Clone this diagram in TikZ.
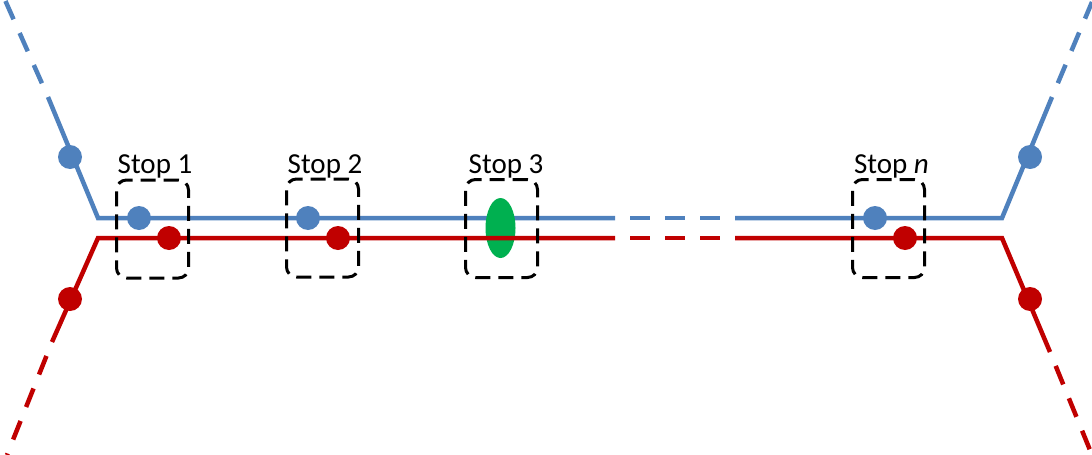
\documentclass[tikz,border=0pt]{standalone}
\usepackage{fontspec}
\setmainfont{Carlito}
\usetikzlibrary{shapes.geometric}
\definecolor{lineblue}{HTML}{4F81BD}
\definecolor{linered}{HTML}{C00000}
\definecolor{stopgreen}{HTML}{00B050}
\tikzset{
  route/.style={line width=4.5pt},
  routedash/.style={line width=4.5pt, dash pattern=on 20pt off 15pt, dash phase=20pt},
  bdot/.style={circle, fill=lineblue, inner sep=0pt, minimum size=24pt},
  rdot/.style={circle, fill=linered, inner sep=0pt, minimum size=24pt},
  stopbox/.style={draw=black, line width=3pt, dash pattern=on 15pt off 8pt, rounded corners=10pt, minimum width=72pt, minimum height=98pt, inner sep=0pt},
  stoplabel/.style={anchor=base, inner sep=0pt, font=\fontsize{29}{34}\selectfont},
}
\begin{document}
\begin{tikzpicture}[x=1pt,y=-1pt]
\useasboundingbox (0,0) rectangle (1092,455);
% blue route coordinates
\coordinate (bL0) at (5,0);
\coordinate (bL1) at (48,97);
\coordinate (bJL) at (98,218);
\coordinate (bM1) at (615,218);
\coordinate (bM2) at (735,218);
\coordinate (bJR) at (1002,218);
\coordinate (bR1) at (1052,97);
\coordinate (bR0) at (1092,2);
% red route coordinates
\coordinate (rL0) at (7,455);
\coordinate (rL1) at (52,342);
\coordinate (rJL) at (98,238);
\coordinate (rM1) at (615,238);
\coordinate (rM2) at (735,238);
\coordinate (rJR) at (1002,238);
\coordinate (rR1) at (1050,352);
\coordinate (rR0) at (1092,455);
% blue route
\draw[route, lineblue] (bL1) -- (bJL) -- (bM1);
\draw[route, lineblue] (bM2) -- (bJR) -- (bR1);
\draw[routedash, lineblue] (bL1) -- (bL0);
\draw[routedash, lineblue] (bR1) -- (bR0);
\draw[routedash, lineblue] (bM1) -- (bM2);
% blue dots
\node[bdot] (bd0) at (70,157) {};
\node[bdot] (bd1) at (139,218) {};
\node[bdot] (bd2) at (308,218) {};
\node[bdot] (bdn) at (875,218) {};
\node[bdot] (bd9) at (1030,157) {};
% stop 3 meeting
\node[ellipse, fill=stopgreen, inner sep=0pt, minimum width=30pt, minimum height=60pt] (meet) at (500.5,228) {};
% red route
\draw[route, linered] (rL1) -- (rJL) -- (rM1);
\draw[route, linered] (rM2) -- (rJR) -- (rR1);
\draw[routedash, linered] (rL1) -- (rL0);
\draw[routedash, linered] (rR1) -- (rR0);
\draw[routedash, linered] (rM1) -- (rM2);
% red dots
\node[rdot] (rd0) at (70,299) {};
\node[rdot] (rd1) at (169,238) {};
\node[rdot] (rd2) at (338,238) {};
\node[rdot] (rdn) at (905,238) {};
\node[rdot] (rd9) at (1030,299) {};
% stop boxes
\node[stopbox] (s1) at (152.5,229) {};
\node[stopbox] (s2) at (322.5,228) {};
\node[stopbox] (s3) at (501.5,228.5) {};
\node[stopbox] (sn) at (888.5,228.5) {};
% labels
\node[stoplabel] (l1) at (155,173) {Stop 1};
\node[stoplabel] (l2) at (325,173) {Stop 2};
\node[stoplabel] (l3) at (506,173) {Stop 3};
\node[stoplabel] (ln) at (891.5,173) {Stop \textit{n}};
\end{tikzpicture}
\end{document}
